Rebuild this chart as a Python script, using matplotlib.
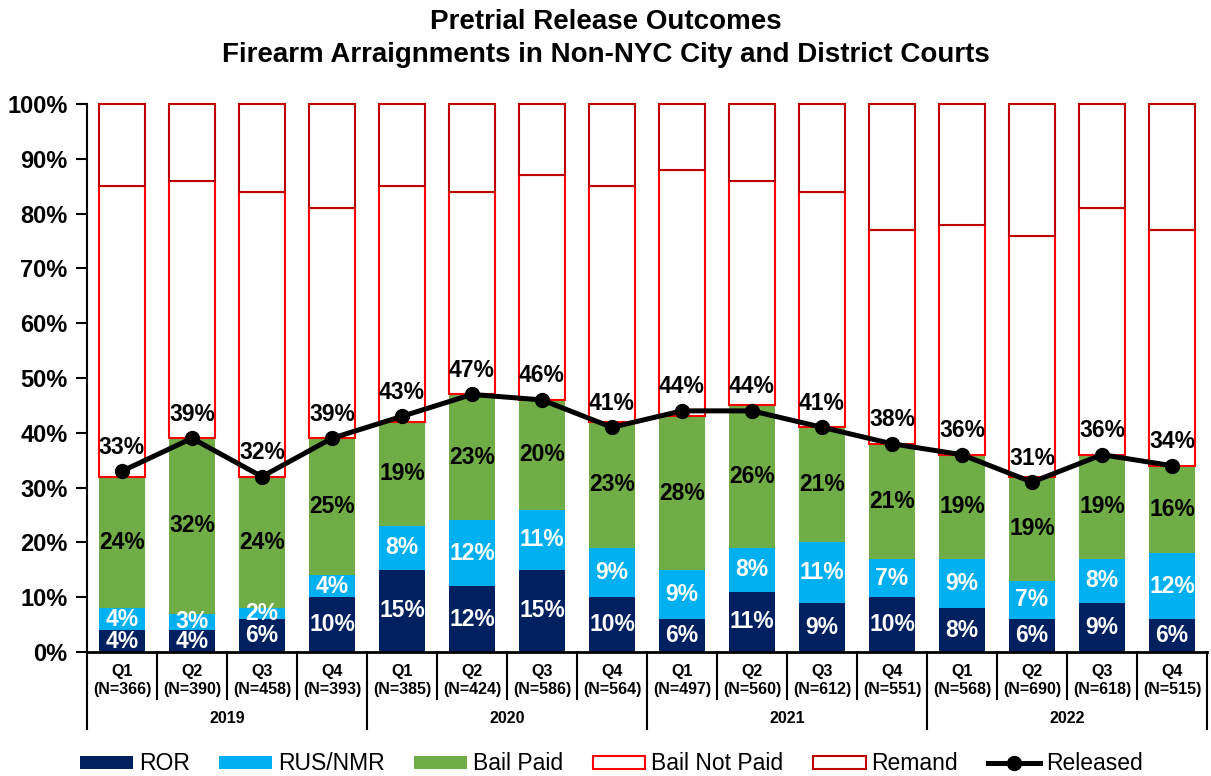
import matplotlib
matplotlib.use("Agg")
import matplotlib.pyplot as plt
import matplotlib.transforms as mtransforms
from matplotlib.ticker import FuncFormatter
import numpy as np

plt.rcParams["font.family"] = ["Liberation Sans", "DejaVu Sans"]

quarters = ["Q1", "Q2", "Q3", "Q4"] * 4
counts = [366, 390, 458, 393, 385, 424, 586, 564, 497, 560, 612, 551, 568, 690, 618, 515]
years = ["2019", "2020", "2021", "2022"]

ror = [4, 4, 6, 10, 15, 12, 15, 10, 6, 11, 9, 10, 8, 6, 9, 6]
rus_nmr = [4, 3, 2, 4, 8, 12, 11, 9, 9, 8, 11, 7, 9, 7, 8, 12]
bail_paid = [24, 32, 24, 25, 19, 23, 20, 23, 28, 26, 21, 21, 19, 19, 19, 16]
bail_not_paid = [53, 47, 52, 42, 43, 37, 41, 43, 45, 41, 43, 39, 42, 44, 45, 43]
remand = [15, 14, 16, 19, 15, 16, 13, 15, 12, 14, 16, 23, 22, 24, 19, 23]
released = [33, 39, 32, 39, 43, 47, 46, 41, 44, 44, 41, 38, 36, 31, 36, 34]

fig = plt.figure(figsize=(12.11, 7.76), dpi=100)
ax = fig.add_axes([0.0718, 0.1598, 0.9249, 0.7062])

x = np.arange(len(ror))
w = 0.66
lbl_font = dict(fontsize=16.5, fontweight="bold")

b1 = ax.bar(x, ror, w, color="#002060", label="ROR")
bottom = np.array(ror, dtype=float)
b2 = ax.bar(x, rus_nmr, w, bottom=bottom, color="#00B0F0", label="RUS/NMR")
bottom += rus_nmr
b3 = ax.bar(x, bail_paid, w, bottom=bottom, color="#70AD47", label="Bail Paid")
bottom += bail_paid
b4 = ax.bar(x, bail_not_paid, w, bottom=bottom, color="white", edgecolor="#FF0000",
            linewidth=1.5, label="Bail Not Paid", clip_on=False)
bottom += bail_not_paid
b5 = ax.bar(x, remand, w, bottom=bottom, color="white", edgecolor="#C00000",
            linewidth=1.5, label="Remand", clip_on=False)

ax.bar_label(b1, labels=[f"{v}%" for v in ror], label_type="center", color="white", **lbl_font)
ax.bar_label(b2, labels=[f"{v}%" for v in rus_nmr], label_type="center", color="white", **lbl_font)
ax.bar_label(b3, labels=[f"{v}%" for v in bail_paid], label_type="center", color="black", **lbl_font)

line, = ax.plot(x, released, color="black", lw=3.6, marker="o", ms=10, label="Released",
                zorder=5)
for xi, v in zip(x, released):
    ax.annotate(f"{v}%", (xi, v), xytext=(0, 9), textcoords="offset points",
                ha="center", va="bottom", **lbl_font)

ax.set_xlim(-0.5, len(ror) - 0.5)
ax.set_ylim(0, 100)
ax.set_yticks(range(0, 101, 10))
ax.yaxis.set_major_formatter(FuncFormatter(lambda v, p: f"{int(v)}%"))
ax.tick_params(axis="y", direction="out", length=8, width=1.5, labelsize=17, pad=6)
for t in ax.get_yticklabels():
    t.set_fontweight("bold")
ax.set_xticks([])
for s in ["top", "right"]:
    ax.spines[s].set_visible(False)
ax.spines["left"].set_linewidth(1.5)
ax.spines["bottom"].set_linewidth(2)

# two-level category axis
trans = mtransforms.blended_transform_factory(ax.transData, ax.transAxes)
for i in range(len(ror) + 1):
    xs = i - 0.5
    ybot = -0.1405 if i % 4 == 0 else -0.0858
    ax.plot([xs, xs], [0, ybot], color="black", lw=1.5, transform=trans, clip_on=False)
for i, (q, n) in enumerate(zip(quarters, counts)):
    ax.text(i, -0.0365, q, transform=trans, ha="center", va="center", fontsize=11.5,
            fontweight="bold")
    ax.text(i, -0.0693, f"(N={n})", transform=trans, ha="center", va="center", fontsize=11.5,
            fontweight="bold")
for j, yr in enumerate(years):
    ax.text(j * 4 + 1.5, -0.122, yr, transform=trans, ha="center", va="center", fontsize=11.5,
            fontweight="bold")

fig.text(0.5, 1 - 22 / 776, "Pretrial Release Outcomes", ha="center", va="center",
         fontsize=20, fontweight="bold")
fig.text(0.5, 1 - 55 / 776, "Firearm Arraignments in Non-NYC City and District Courts",
         ha="center", va="center", fontsize=20, fontweight="bold")

fig.legend(handles=[b1, b2, b3, b4, b5, line], loc="center", bbox_to_anchor=(0.505, 12 / 776),
           ncol=6, frameon=False, fontsize=16.5, handlelength=2.3, handleheight=0.5,
           handletextpad=0.25, columnspacing=1.3)

fig.savefig("out.png", dpi=100)
